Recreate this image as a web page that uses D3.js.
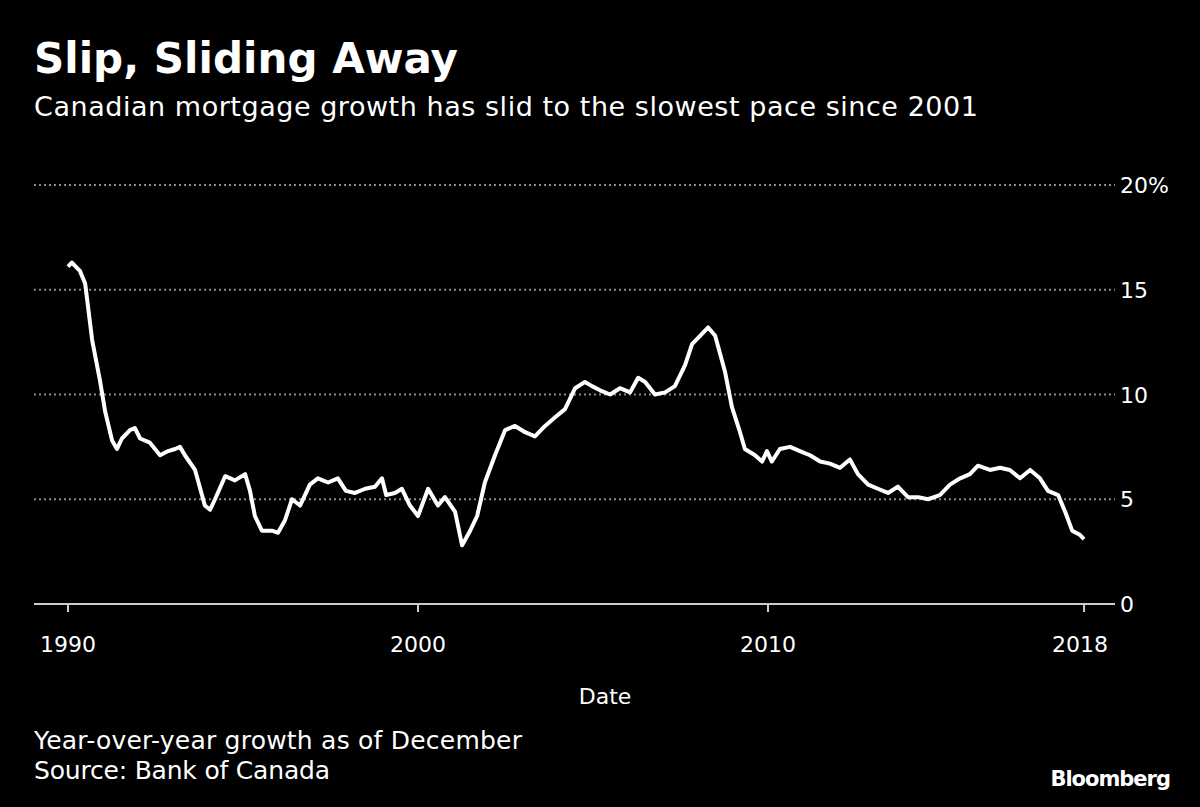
<!DOCTYPE html>
<html><head><meta charset="utf-8">
<script src="https://cdn.jsdelivr.net/npm/d3@7"></script>
<style>body{margin:0;background:#000}svg{display:block}text{font-family:"DejaVu Sans",sans-serif;fill:#fff}</style>
</head><body><svg id="c" width="1200" height="807"></svg>
<script>
const years=[1990.00,1990.11,1990.34,1990.49,1990.69,1990.91,1991.06,1991.26,1991.40,1991.54,1991.77,1991.91,1992.06,1992.34,1992.63,1992.86,1993.06,1993.20,1993.34,1993.63,1993.91,1994.06,1994.20,1994.49,1994.77,1995.06,1995.20,1995.34,1995.54,1995.83,1996.00,1996.20,1996.40,1996.63,1996.91,1997.14,1997.43,1997.71,1997.94,1998.20,1998.49,1998.77,1998.97,1999.09,1999.34,1999.54,1999.77,2000.00,2000.29,2000.57,2000.77,2001.06,2001.26,2001.49,2001.69,2001.91,2002.20,2002.49,2002.77,2003.06,2003.34,2003.63,2003.91,2004.20,2004.49,2004.77,2004.97,2005.20,2005.49,2005.77,2006.06,2006.29,2006.49,2006.77,2007.06,2007.34,2007.63,2007.83,2008.06,2008.29,2008.49,2008.77,2008.97,2009.20,2009.34,2009.63,2009.83,2009.97,2010.11,2010.34,2010.63,2010.91,2011.20,2011.49,2011.77,2012.06,2012.34,2012.57,2012.86,2013.14,2013.43,2013.71,2014.00,2014.29,2014.57,2014.91,2015.20,2015.49,2015.77,2016.00,2016.34,2016.63,2016.91,2017.20,2017.49,2017.77,2018.00,2018.29,2018.49,2018.69,2018.91,2019.03];
const growth=[16.1,16.3,15.9,15.3,12.6,10.7,9.2,7.8,7.4,7.9,8.3,8.4,7.9,7.7,7.1,7.3,7.4,7.5,7.1,6.4,4.7,4.5,5.0,6.1,5.9,6.2,5.4,4.2,3.5,3.5,3.4,4.0,5.0,4.7,5.7,6.0,5.8,6.0,5.4,5.3,5.5,5.6,6.0,5.2,5.3,5.5,4.7,4.2,5.5,4.7,5.1,4.4,2.8,3.5,4.2,5.8,7.1,8.3,8.5,8.2,8.0,8.5,8.9,9.3,10.3,10.6,10.4,10.2,10.0,10.3,10.1,10.8,10.6,10.0,10.1,10.4,11.4,12.4,12.8,13.2,12.8,11.1,9.4,8.2,7.4,7.1,6.8,7.3,6.8,7.4,7.5,7.3,7.1,6.8,6.7,6.5,6.9,6.2,5.7,5.5,5.3,5.6,5.1,5.1,5.0,5.2,5.7,6.0,6.2,6.6,6.4,6.5,6.4,6.0,6.4,6.0,5.4,5.2,4.4,3.5,3.3,3.1];
const xTicks=[1990,2000,2010,2019.03];
const xTickLabels=["1990","2000","2010","2018"];
const yTicks=[0,5,10,15,20];
const yTickLabels=["0","5","10","15","20%"];

const svg=d3.select("#c");
svg.append("rect").attr("width",1200).attr("height",807).attr("fill","#000");
const x=d3.scaleLinear().domain([1990,2000]).range([68,418]);
const y=d3.scaleLinear().domain([0,20]).range([604,185]);

svg.append("text").attr("x",34).attr("y",73).attr("font-size",42).attr("font-weight","bold").attr("textLength",424).text("Slip, Sliding Away");
svg.append("text").attr("x",34).attr("y",116).attr("font-size",27).attr("textLength",944).text("Canadian mortgage growth has slid to the slowest pace since 2001");

yTicks.forEach((t,i)=>{
  if(t>0) svg.append("line").attr("x1",34).attr("x2",1115).attr("y1",y(t)).attr("y2",y(t))
    .attr("stroke","#8a8a8a").attr("stroke-width",2).attr("stroke-dasharray","2,3");
  svg.append("text").attr("x",1120).attr("y",y(t)+8).attr("font-size",22).attr("fill","#ddd").text(yTickLabels[i]);
});
svg.append("line").attr("x1",34).attr("x2",1115).attr("y1",y(0)).attr("y2",y(0)).attr("stroke","#ccc").attr("stroke-width",2);
xTicks.forEach((t,i)=>{
  svg.append("line").attr("x1",x(t)).attr("x2",x(t)).attr("y1",y(0)).attr("y2",y(0)+8).attr("stroke","#ccc").attr("stroke-width",2);
  svg.append("text").attr("x",x(t)-(i==3?4:0)).attr("y",652).attr("font-size",22).attr("fill","#ddd").attr("text-anchor","middle").text(xTickLabels[i]);
});
svg.append("text").attr("x",605).attr("y",704).attr("font-size",22).attr("fill","#ddd").attr("text-anchor","middle").text("Date");

const line=d3.line().x((d,i)=>x(years[i])).y(d=>y(d)).curve(d3.curveLinear);
svg.append("path").attr("d",line(growth)).attr("fill","none").attr("stroke","#fff").attr("stroke-width",4).attr("stroke-linejoin","round");

svg.append("text").attr("x",34).attr("y",749).attr("font-size",25).attr("fill","#ddd").attr("textLength",488).text("Year-over-year growth as of December");
svg.append("text").attr("x",34).attr("y",779).attr("font-size",25).attr("fill","#ddd").attr("textLength",296).text("Source: Bank of Canada");
svg.append("text").attr("x",1170).attr("y",786).attr("font-size",21).attr("font-weight","bold").attr("text-anchor","end").attr("fill","#ccc").attr("letter-spacing",-1).text("Bloomberg");
</script></body></html>
